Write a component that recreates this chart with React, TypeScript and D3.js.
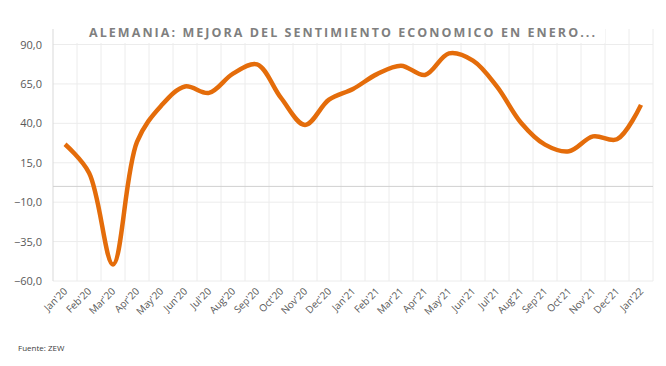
import * as d3 from "d3";
import { useEffect } from "react";

const months = [
  "Jan'20", "Feb'20", "Mar'20", "Apr'20", "May'20", "Jun'20", "Jul'20", "Aug'20", "Sep'20",
  "Oct'20", "Nov'20", "Dec'20", "Jan'21", "Feb'21", "Mar'21", "Apr'21", "May'21", "Jun'21",
  "Jul'21", "Aug'21", "Sep'21", "Oct'21", "Nov'21", "Dec'21", "Jan'22",
];
const sentiment = [
  26.7, 8.7, -49.5, 28.2, 51.0, 63.4, 59.3, 71.5, 77.4, 56.1, 39.0, 55.0, 61.8, 71.2, 76.6,
  70.7, 84.4, 79.8, 63.3, 40.4, 26.5, 22.3, 31.7, 29.9, 51.7,
];
const yTicks = [-60, -35, -10, 15, 40, 65, 90];

const title = "ALEMANIA: MEJORA DEL SENTIMIENTO ECONOMICO EN ENERO...";
const source = "Fuente: ZEW";

export default function App() {
  useEffect(() => {
    document.body.style.margin = "0";
  }, []);

  const width = 666;
  const height = 366;
  const left = 53;
  const right = 653;
  const top = 29;

  const x = d3.scaleBand<string>().domain(months).range([left, right]);
  const y = d3.scaleLinear().domain([-60, 90]).range([281, 44.5]);
  const cx = (m: string) => x(m)! + x.bandwidth() / 2;

  const line = d3
    .line<number>()
    .x((_, i) => cx(months[i]))
    .y((d) => y(d))
    .curve(d3.curveCatmullRom.alpha(0.5));

  const font = "'Open Sans', 'DejaVu Sans', sans-serif";
  const grid = "#ececec";

  return (
    <svg width={width} height={height} style={{ display: "block", background: "#fff" }}>
      {/* horizontal grid */}
      {yTicks.map((t) => (
        <line key={t} x1={left} x2={right} y1={y(t)} y2={y(t)} stroke={grid} strokeWidth={1} />
      ))}
      {/* vertical grid at band edges */}
      {months.map((m) => (
        <line key={m} x1={x(m)! + x.bandwidth()} x2={x(m)! + x.bandwidth()} y1={top} y2={y(-60)} stroke={grid} strokeWidth={1} />
      ))}
      {/* title box covers the grid */}
      <rect x={70} y={20} width={535} height={23} fill="#fff" />
      <text
        x={342}
        y={37}
        textAnchor="middle"
        fontFamily={font}
        fontWeight="bold"
        fontSize={12.5}
        fill="#7f7f7f"
        textLength={506}
        lengthAdjust="spacing"
      >
        {title}
      </text>
      {/* left axis line */}
      <line x1={left} x2={left} y1={top} y2={y(-60)} stroke="#d9d9d9" strokeWidth={1} />
      {/* zero line */}
      <line x1={left} x2={right} y1={y(0)} y2={y(0)} stroke="#d0d0d0" strokeWidth={1} />
      {/* y labels */}
      {yTicks.map((t) => (
        <text key={t} x={42} y={y(t) + 4} textAnchor="end" fontFamily={font} fontSize={11} fill="#595959">
          {d3.format(".1f")(t).replace(".", ",")}
        </text>
      ))}
      {/* x labels */}
      {months.map((m) => (
        <text
          key={m}
          transform={`translate(${cx(m) + 3},${292}) rotate(-45)`}
          textAnchor="end"
          fontFamily={font}
          fontSize={10}
          fill="#595959"
        >
          {m}
        </text>
      ))}
      <path d={line(sentiment)!} fill="none" stroke="#E46C0A" strokeWidth={4.5} strokeLinejoin="round" />
      <text x={18} y={351} fontFamily={font} fontSize={8} fill="#404040">
        {source}
      </text>
    </svg>
  );
}
